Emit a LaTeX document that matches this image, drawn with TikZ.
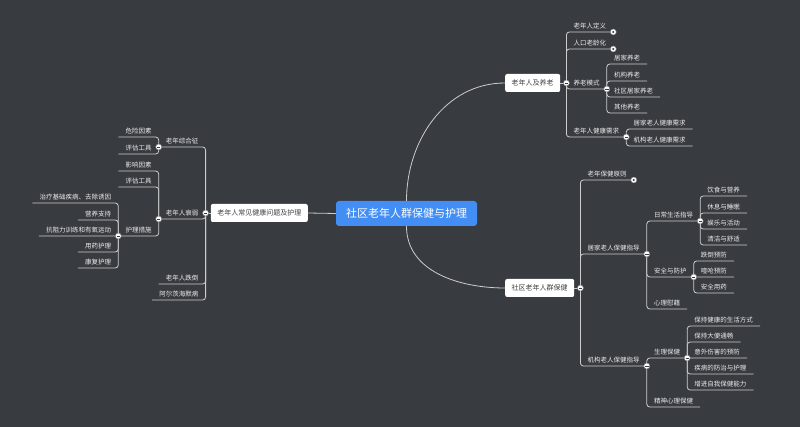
\documentclass[tikz,border=0pt]{standalone}
\usepackage{fontspec}
\setmainfont{Noto Sans CJK SC}
\usepackage{tikz}
\usetikzlibrary{positioning}

\definecolor{bgdark}{RGB}{56,59,64}
\definecolor{wire}{RGB}{205,205,205}
\definecolor{coreblue}{RGB}{66,142,245}
\definecolor{leaftext}{RGB}{236,236,236}
\definecolor{boxtext}{RGB}{64,64,64}

\begin{document}
\begin{tikzpicture}[
      x=1pt, y=-1pt,
      core/.style={fill=coreblue, rounded corners=3pt, minimum width=141pt,
                   minimum height=25pt, text=white, font=\fontsize{11}{13}\selectfont},
      topic/.style={fill=white, rounded corners=2pt, minimum height=18pt,
                    inner xsep=6.5pt, text=boxtext, font=\fontsize{7}{8}\selectfont},
      leaf/.style={inner xsep=7pt, inner ysep=2.5pt, text=leaftext,
                   font=\fontsize{6.5}{7}\selectfont},
      leafr/.style={leaf, anchor=south west},
      leafl/.style={leaf, anchor=south east},
      branch/.style={draw=wire, line width=0.8pt, rounded corners=3pt},
      knobbase/.style={circle, fill=white, draw=wire!60!black, line width=0.4pt,
                       minimum size=6pt, inner sep=0pt},
      knob/.style={knobbase, path picture={\draw[bgdark, line width=0.7pt]
                   ([xshift=-1.7pt]path picture bounding box.center) --
                   ([xshift=1.7pt]path picture bounding box.center);}},
      knobdot/.style={knobbase, path picture={\fill[bgdark]
                   (path picture bounding box.center) circle (1.1pt);}},
    ]
    \useasboundingbox (0,0) rectangle (800,427);
    \fill[bgdark] (0,0) rectangle (800,427);

    % main topics
    \node[core] (care) at (406.5,213.5) {社区老年人群保健与护理};
    \node[topic, anchor=west] (elder) at (505,83) {老年人及养老};
    \node[topic, anchor=west] (comm) at (505,288) {社区老年人群保健};
    \node[topic, anchor=east] (common) at (308,213) {老年人常见健康问题及护理};
    \coordinate[right=6pt of elder] (j-elder);
    \coordinate[right=6pt of comm] (j-comm);
    \coordinate[left=5pt of common] (j-common);

    % 老年人及养老
    \node[leafr] (define) at (j-elder |- 0,32) {老年人定义};
    \node[leafr] (aging) at (j-elder |- 0,49) {人口老龄化};
    \node[leafr] (mode) at (j-elder |- 0,89) {养老模式};
    \node[leafr] (need) at (j-elder |- 0,137) {老年人健康需求};
    \node[leafr] (mode1) at (mode.south east |- 0,64) {居家养老};
    \node[leafr] (mode2) at (mode.south east |- 0,81) {机构养老};
    \node[leafr] (mode3) at (mode.south east |- 0,97) {社区居家养老};
    \node[leafr] (mode4) at (mode.south east |- 0,113) {其他养老};
    \node[leafr] (need1) at (need.south east |- 0,129) {居家老人健康需求};
    \node[leafr] (need2) at (need.south east |- 0,146) {机构老人健康需求};

    % 社区老年人群保健
    \node[leafr] (principle) at (j-comm |- 0,180) {老年保健原则};
    \node[leafr] (home) at (j-comm |- 0,254) {居家老人保健指导};
    \node[leafr] (inst) at (j-comm |- 0,366) {机构老人保健指导};
    \node[leafr] (daily) at (home.south east |- 0,221) {日常生活指导};
    \node[leafr] (safe) at (home.south east |- 0,277) {安全与防护};
    \node[leafr] (mind) at (home.south east |- 0,309) {心理慰藉};
    \node[leafr] (daily1) at (daily.south east |- 0,196) {饮食与营养};
    \node[leafr] (daily2) at (daily.south east |- 0,213) {休息与睡眠};
    \node[leafr] (daily3) at (daily.south east |- 0,229) {娱乐与活动};
    \node[leafr] (daily4) at (daily.south east |- 0,245) {清洁与舒适};
    \node[leafr] (safe1) at (safe.south east |- 0,261) {跌倒预防};
    \node[leafr] (safe2) at (safe.south east |- 0,277) {噎呛预防};
    \node[leafr] (safe3) at (safe.south east |- 0,293) {安全用药};
    \node[leafr] (body) at (inst.south east |- 0,358) {生理保健};
    \node[leafr] (spirit) at (inst.south east |- 0,407) {精神心理保健};
    \node[leafr] (body1) at (body.south east |- 0,326) {保持健康的生活方式};
    \node[leafr] (body2) at (body.south east |- 0,342) {保持大便通畅};
    \node[leafr] (body3) at (body.south east |- 0,358) {意外伤害的预防};
    \node[leafr] (body4) at (body.south east |- 0,374) {疾病的防治与护理};
    \node[leafr] (body5) at (body.south east |- 0,390) {增进自我保健能力};

    % 老年人常见健康问题及护理
    \node[leafl] (syn) at (j-common |- 0,147) {老年综合征};
    \node[leafl] (frail) at (j-common |- 0,219) {老年人衰弱};
    \node[leafl] (fall) at (j-common |- 0,284) {老年人跌倒};
    \node[leafl] (ad) at (j-common |- 0,300) {阿尔茨海默病};
    \node[leafl] (syn1) at (syn.south west |- 0,137) {危险因素};
    \node[leafl] (syn2) at (syn.south west |- 0,154) {评估工具};
    \node[leafl] (frail1) at (frail.south west |- 0,171) {影响因素};
    \node[leafl] (frail2) at (frail.south west |- 0,187) {评估工具};
    \node[leafl] (nurse) at (frail.south west |- 0,236) {护理措施};
    \node[leafl] (nurse1) at (nurse.south west |- 0,203) {治疗基础疾病、去除诱因};
    \node[leafl] (nurse2) at (nurse.south west |- 0,220) {营养支持};
    \node[leafl] (nurse3) at (nurse.south west |- 0,236) {抗阻力训练和有氧运动};
    \node[leafl] (nurse4) at (nurse.south west |- 0,252) {用药护理};
    \node[leafl] (nurse5) at (nurse.south west |- 0,268) {康复护理};

    % connectors
    \draw[branch] (care.north) to[out=90, in=180] (elder.west);
    \draw[branch] (care.south) to[out=-90, in=180] (comm.west);
    \draw[branch] (care.west) -- (common.east);
    \draw[branch] (elder) -- (j-elder);
    \draw[branch] (comm) -- (j-comm);
    \draw[branch] (common) -- (j-common);

    \foreach \n in {define,aging,mode,need}
      \draw[branch] (j-elder) |- (\n.south east);
    \foreach \n in {mode1,mode2,mode3,mode4}
      \draw[branch] (mode.south east) |- (\n.south east);
    \foreach \n in {need1,need2}
      \draw[branch] (need.south east) |- (\n.south east);

    \foreach \n in {principle,home,inst}
      \draw[branch] (j-comm) |- (\n.south east);
    \foreach \n in {daily,safe,mind}
      \draw[branch] (home.south east) |- (\n.south east);
    \foreach \n in {daily1,daily2,daily3,daily4}
      \draw[branch] (daily.south east) |- (\n.south east);
    \foreach \n in {safe1,safe2,safe3}
      \draw[branch] (safe.south east) |- (\n.south east);
    \foreach \n in {body,spirit}
      \draw[branch] (inst.south east) |- (\n.south east);
    \foreach \n in {body1,body2,body3,body4,body5}
      \draw[branch] (body.south east) |- (\n.south east);

    \foreach \n in {syn,frail,fall,ad}
      \draw[branch] (j-common) |- (\n.south west);
    \foreach \n in {syn1,syn2}
      \draw[branch] (syn.south west) |- (\n.south west);
    \foreach \n in {frail1,frail2,nurse}
      \draw[branch] (frail.south west) |- (\n.south west);
    \foreach \n in {nurse1,nurse2,nurse3,nurse4,nurse5}
      \draw[branch] (nurse.south west) |- (\n.south west);

    % fold handles
    \node[knob] (k-elder) at (j-elder) {};
    \node[knob] (k-comm) at (j-comm) {};
    \node[knob] (k-common) at (j-common) {};
    \node[knob] (k-mode) at (mode.south east) {};
    \node[knob] (k-need) at (need.south east) {};
    \node[knob] (k-home) at (home.south east) {};
    \node[knob] (k-daily) at (daily.south east) {};
    \node[knob] (k-safe) at (safe.south east) {};
    \node[knob] (k-inst) at (inst.south east) {};
    \node[knob] (k-body) at (body.south east) {};
    \node[knob] (k-syn) at (syn.south west) {};
    \node[knob] (k-frail) at (frail.south west) {};
    \node[knob] (k-nurse) at (nurse.south west) {};
    \node[knobdot] (k-define) at (define.south east) {};
    \node[knobdot] (k-aging) at (aging.south east) {};
    \node[knobdot] (k-principle) at (principle.south east) {};
  \end{tikzpicture}
\end{document}
